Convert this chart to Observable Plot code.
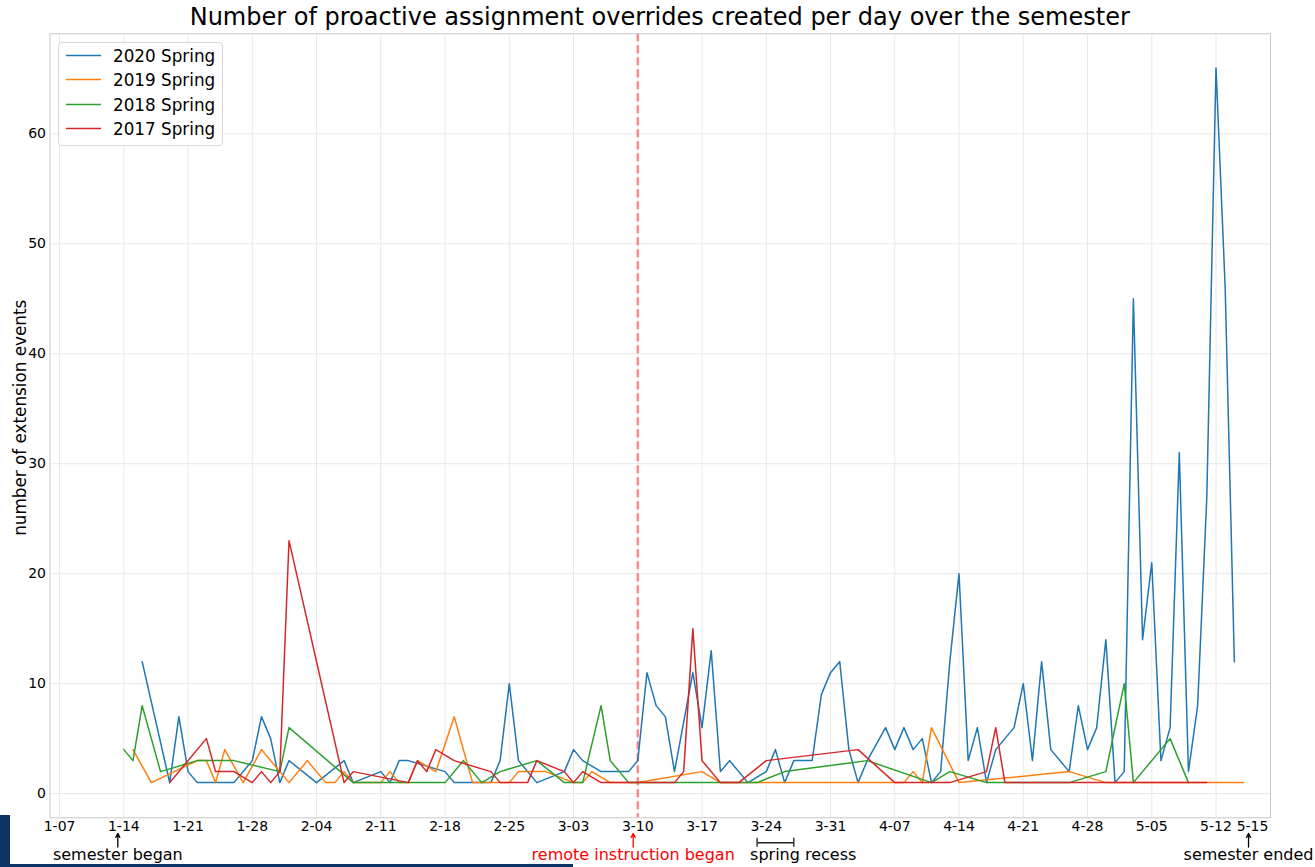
<!DOCTYPE html>
<html>
<head>
<meta charset="utf-8">
<script src="https://cdn.jsdelivr.net/npm/d3@7"></script>
<script src="https://cdn.jsdelivr.net/npm/@observablehq/plot@0.6"></script>
<style>
html,body{margin:0;padding:0;background:#fff;}
#page{position:relative;width:1315px;height:867px;overflow:hidden;font-family:"DejaVu Sans",sans-serif;color:#000;}
#title{position:absolute;left:49.5px;width:1220.5px;top:3px;text-align:center;font-size:24px;line-height:28px;white-space:nowrap;}
#chart{position:absolute;left:0;top:31px;}
#legend{position:absolute;left:58px;top:41.5px;width:165px;height:104px;border:1px solid #d9d9d9;border-radius:4px;background:rgba(255,255,255,0.85);box-sizing:border-box;}
.item{position:absolute;left:0;height:24px;width:160px;}
.item svg{position:absolute;left:6px;top:0;}
.item span{position:absolute;left:54px;top:1px;font-size:16.8px;line-height:22px;white-space:nowrap;}
#navyV{position:absolute;left:0;top:815px;width:10px;height:52px;background:#0b3363;}
#navyH{position:absolute;left:0;top:864px;width:573px;height:3px;background:#0b3363;}
</style>
</head>
<body>
<div id="page">
  <div id="title">Number of proactive assignment overrides created per day over the semester</div>
  <div id="chart"></div>
  <div id="legend"></div>
  <div id="navyV"></div>
  <div id="navyH"></div>
</div>
<script>
// ---------- data (dates as M-DD, plotted on the 2020 calendar) ----------
const seriesNames = ["2020 Spring", "2019 Spring", "2018 Spring", "2017 Spring"];
const seriesColors = ["#1f77b4", "#ff7f0e", "#2ca02c", "#d62728"];

const dates2020 = ["1-16","1-19","1-20","1-21","1-22","1-26","1-28","1-29","1-30","1-31","2-01","2-04","2-07","2-08","2-11","2-12","2-13","2-14","2-18","2-19","2-23","2-24","2-25","2-26","2-28","3-02","3-03","3-04","3-06","3-09","3-10","3-11","3-12","3-13","3-14","3-16","3-17","3-18","3-19","3-20","3-22","3-24","3-25","3-26","3-27","3-29","3-30","3-31","4-01","4-02","4-03","4-04","4-06","4-07","4-08","4-09","4-10","4-11","4-12","4-13","4-14","4-15","4-16","4-17","4-18","4-20","4-21","4-22","4-23","4-24","4-26","4-27","4-28","4-29","4-30","5-01","5-02","5-03","5-04","5-05","5-06","5-07","5-08","5-09","5-10","5-11","5-12","5-13","5-14"];
const values2020 = [12,1,7,2,1,1,3,7,5,1,3,1,3,1,2,1,3,3,2,1,1,3,10,3,1,2,4,3,2,2,3,11,8,7,2,11,6,13,2,3,1,2,4,1,3,3,9,11,12,4,1,3,6,4,6,4,5,1,2,12,20,3,6,1,4,6,10,3,12,4,2,8,4,6,14,1,2,45,14,21,3,6,31,2,8,27,66,46,12];

const dates2019 = ["1-15","1-17","1-22","1-23","1-24","1-25","1-27","1-29","2-01","2-03","2-05","2-06","2-07","2-08","2-11","2-12","2-13","2-14","2-15","2-17","2-19","2-21","2-25","2-26","2-28","2-29","3-03","3-04","3-05","3-07","3-10","3-17","3-19","4-08","4-09","4-10","4-11","4-14","4-26","4-30","5-15"];
const values2019 = [4,1,3,3,1,4,1,4,1,3,1,1,2,1,1,2,1,1,3,2,7,1,1,2,2,2,1,1,2,1,1,2,1,1,2,1,6,1,2,1,1];

const dates2018 = ["1-14","1-15","1-16","1-18","1-22","1-26","1-31","2-01","2-08","2-18","2-20","2-22","2-24","2-28","3-02","3-04","3-06","3-07","3-09","3-23","3-26","4-04","4-11","4-13","4-17","4-26","4-30","5-02","5-03","5-07","5-09"];
const values2018 = [4,3,8,2,3,3,2,6,1,1,3,1,2,3,1,1,8,3,1,1,2,3,1,2,1,1,2,10,1,5,1];

const dates2017 = ["1-19","1-23","1-24","1-26","1-28","1-29","1-30","1-31","2-01","2-07","2-08","2-14","2-15","2-16","2-17","2-19","2-23","2-24","2-27","2-28","3-02","3-03","3-04","3-06","3-14","3-15","3-16","3-17","3-19","3-21","3-24","4-03","4-07","4-13","4-17","4-18","4-19","5-11"];
const values2017 = [1,5,2,2,1,2,1,2,23,1,2,1,3,2,4,3,2,1,1,3,2,1,2,1,1,2,15,3,1,1,3,4,1,1,2,6,1,1];

const weeklyTickLabels = ["1-07","1-14","1-21","1-28","2-04","2-11","2-18","2-25","3-03","3-10","3-17","3-24","3-31","4-07","4-14","4-21","4-28","5-05","5-12"];
const endTickLabel = "5-15";
const yTicks = [0, 10, 20, 30, 40, 50, 60];
const yLabel = "number of extension events";

const annotations = [
  {date: "1-14", label: "semester began", color: "#000000", shift: -6},
  {date: "3-10", label: "remote instruction began", color: "#ff0000", shift: -4.6},
  {date: "5-15", label: "semester ended", color: "#000000", shift: 5}
];
const recess = {from: "3-23", to: "3-27", label: "spring recess"};
const remoteStart = "3-10";

// ---------- build ----------
const parse = s => { const [m, d] = s.split("-").map(Number); return new Date(Date.UTC(2020, m - 1, d)); };
const fmt = d => `${d.getUTCMonth() + 1}-${String(d.getUTCDate()).padStart(2, "0")}`;

const seriesDates = [dates2020, dates2019, dates2018, dates2017];
const seriesValues = [values2020, values2019, values2018, values2017];
const rows = seriesNames.flatMap((name, k) =>
  seriesDates[k].map((d, i) => ({series: name, date: parse(d), value: seriesValues[k][i]})));

const xTicks = weeklyTickLabels.map(parse);
const xDomain = [new Date(Date.UTC(2020, 0, 5, 23, 0)), new Date(Date.UTC(2020, 4, 17, 22, 30))];
const yDomain = [-2.2, 69.1];

const arrowBottom = -4.86, arrowTop = -3.63;
const bracketY = -4.47, capLo = -4.87, capHi = -4.06;
const recessRow = [{a: parse(recess.from), b: parse(recess.to)}];

const annMarks = annotations.flatMap(a => {
  const row = [{d: parse(a.date), label: a.label}];
  return [
    Plot.arrow(row, {x1: "d", x2: "d", y1: arrowBottom, y2: arrowTop, dx: a.shift, stroke: a.color, strokeWidth: 1.3, headLength: 5, headAngle: 55}),
    Plot.text(row, {x: "d", text: "label", fill: a.color, frameAnchor: "bottom", textAnchor: "middle", dy: 42, dx: a.shift, fontSize: 16})
  ];
});

const chart = Plot.plot({
  width: 1315,
  height: 836,
  marginLeft: 49.5,
  marginRight: 45,
  marginTop: 2.3,
  marginBottom: 49.7,
  style: {fontFamily: "DejaVu Sans, sans-serif", fontSize: "14px", color: "#000", background: "transparent", overflow: "visible"},
  x: {type: "utc", domain: xDomain},
  y: {domain: yDomain},
  color: {domain: seriesNames, range: seriesColors},
  marks: [
    Plot.gridX(xTicks, {stroke: "#e8e8e8", strokeOpacity: 1}),
    Plot.gridY(yTicks, {stroke: "#e8e8e8", strokeOpacity: 1}),
    Plot.ruleX([parse(remoteStart)], {stroke: "#ff0000", strokeOpacity: 0.42, strokeWidth: 2.6, strokeDasharray: "8,4"}),
    Plot.line(rows, {x: "date", y: "value", z: "series", stroke: "series", strokeWidth: 1.5}),
    Plot.frame({stroke: "#c8c8c8"}),
    Plot.axisX(xTicks, {tickSize: 0, tickPadding: 3, tickFormat: fmt, fontSize: 14, label: null}),
    Plot.axisX([parse(endTickLabel)], {tickSize: 0, tickPadding: 3, tickFormat: fmt, fontSize: 14, label: null, dx: 9}),
    Plot.axisY(yTicks, {tickSize: 0, tickPadding: 4, fontSize: 14, label: null}),
    Plot.text([yLabel], {frameAnchor: "left", textAnchor: "middle", text: d => d, rotate: -90, dx: -29, dy: -8, fontSize: 16.8}),
    ...annMarks,
    Plot.link(recessRow, {x1: "a", x2: "b", y1: bracketY, y2: bracketY, stroke: "#222", strokeWidth: 1.3}),
    Plot.ruleX(recessRow.flatMap(r => [r.a, r.b]), {y1: capLo, y2: capHi, stroke: "#222", strokeWidth: 1.3}),
    Plot.text(recessRow, {x: "a", text: () => recess.label, frameAnchor: "bottom", dy: 42, dx: -7, textAnchor: "start", fontSize: 16})
  ]
});
document.getElementById("chart").appendChild(chart);

// ---------- legend ----------
const legend = document.getElementById("legend");
seriesNames.forEach((name, i) => {
  const it = document.createElement("div");
  it.className = "item";
  it.style.top = (1.5 + i * 24.4) + "px";
  it.innerHTML = `<svg width="40" height="24"><line x1="1" x2="36" y1="11.5" y2="11.5" stroke="${seriesColors[i]}" stroke-width="1.6"/></svg><span>${name}</span>`;
  legend.appendChild(it);
});
</script>
</body>
</html>
